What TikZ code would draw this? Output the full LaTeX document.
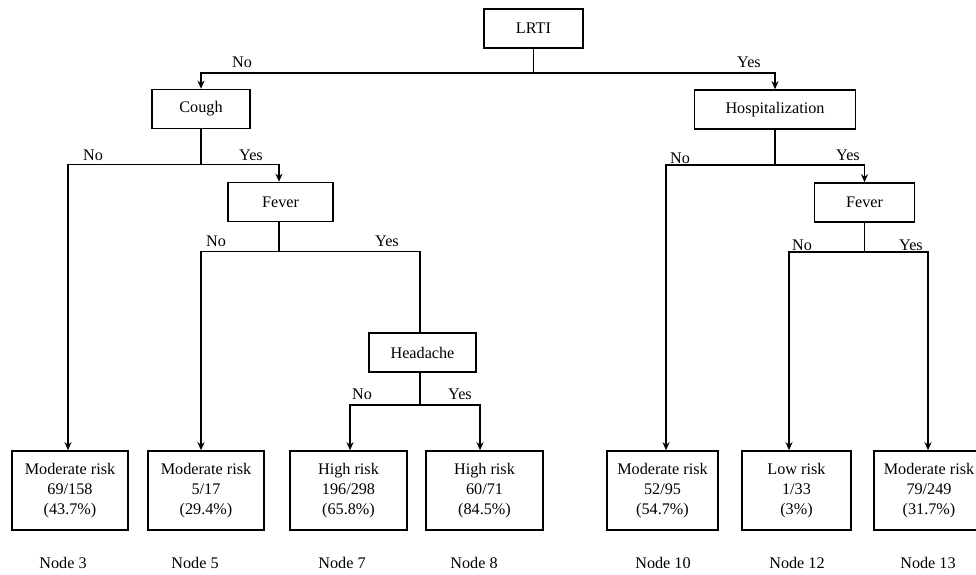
\documentclass[tikz,border=0pt]{standalone}
\usepackage{fontspec}
\setmainfont{Liberation Serif}
\usetikzlibrary{arrows.meta}
\begin{document}
\begin{tikzpicture}[x=1pt,y=-1pt,
  every node/.style={font=\fontsize{16.2}{20}\selectfont},
  splitbox/.style={draw,line width=1.6pt,inner sep=0pt,minimum height=39pt},
  leafbox/.style={draw,line width=1.6pt,inner sep=0pt,minimum height=79pt,align=center},
  link/.style={line width=1.4pt},
  arr/.style={link,-{Stealth[length=8pt,width=7pt,inset=2.5pt]}},
  lbl/.style={inner sep=0pt},
]
\useasboundingbox (0,0) rectangle (976,574);
\clip (0,0) rectangle (976,574);

% decision nodes
\node[splitbox,minimum width=99pt]  (lrti)  at (533.5,28.5) {LRTI};
\node[splitbox,minimum width=98pt]  (cough) at (201,109)    {Cough};
\node[splitbox,minimum width=161pt] (hosp)  at (775,109.5)  {Hospitalization};
\node[splitbox,minimum width=105pt] (fevA)  at (280.5,202)  {Fever};
\node[splitbox,minimum width=100pt] (fevB)  at (864.5,202.5){Fever};
\node[splitbox,minimum width=107pt] (head)  at (422.5,352.5){Headache};

% outcome nodes
\node[leafbox,minimum width=116pt] (n3)  at (70,490.5)    {Moderate risk\\69/158\\(43.7\%)};
\node[leafbox,minimum width=116pt] (n5)  at (206,490.5)   {Moderate risk\\5/17\\(29.4\%)};
\node[leafbox,minimum width=117pt] (n7)  at (348.5,490.5) {High risk\\196/298\\(65.8\%)};
\node[leafbox,minimum width=117pt] (n8)  at (484.5,490.5) {High risk\\60/71\\(84.5\%)};
\node[leafbox,minimum width=111pt] (n10) at (662.5,490.5) {Moderate risk\\52/95\\(54.7\%)};
\node[leafbox,minimum width=109pt] (n12) at (796.5,490.5) {Low risk\\1/33\\(3\%)};
\node[leafbox,minimum width=110pt] (n13) at (929,490.5)   {Moderate risk\\79/249\\(31.7\%)};

% node captions
\node (c3)  at (63,563)  {Node 3};
\node (c5)  at (195,563) {Node 5};
\node (c7)  at (342,563) {Node 7};
\node (c8)  at (474,563) {Node 8};
\node (c10) at (663,563) {Node 10};
\node (c12) at (797,563) {Node 12};
\node (c13) at (928,563) {Node 13};

% branches
\draw[arr] (lrti.south) -- ++(0,24) -| (cough.north);
\draw[arr] (lrti.south) -- ++(0,24) -| (hosp.north);

\draw[arr] (cough.south) -- ++(0,35) -| ([xshift=-2pt]n3.north);
\draw[arr] (cough.south) -- ++(0,35) -| ([xshift=-1.5pt]fevA.north);

\draw[arr]  ([xshift=-1.5pt]fevA.south) -- ++(0,29) -| ([xshift=-5pt]n5.north);
\draw[link] ([xshift=-1.5pt]fevA.south) -- ++(0,29) -| ([xshift=-2.5pt]head.north);

\draw[arr] ([xshift=-2.5pt]head.south) -- ++(0,32) -| ([xshift=1.5pt]n7.north);
\draw[arr] ([xshift=-2.5pt]head.south) -- ++(0,32) -| ([xshift=-4.5pt]n8.north);

\draw[arr] (hosp.south) -- ++(0,35) -| ([xshift=3.5pt]n10.north);
\draw[arr] (hosp.south) -- ++(0,35) -| (fevB.north);

\draw[arr] (fevB.south) -- ++(0,29) -| ([xshift=-7.5pt]n12.north);
\draw[arr] (fevB.south) -- ++(0,29) -| ([xshift=-1pt]n13.north);

% branch labels
\node[lbl] (l1n) at (242,62)  {No};
\node[lbl] (l1y) at (749,62)  {Yes};
\node[lbl] (l2n) at (93,155)  {No};
\node[lbl] (l2y) at (251,155) {Yes};
\node[lbl] (l3n) at (680,158) {No};
\node[lbl] (l3y) at (848,155) {Yes};
\node[lbl] (l4n) at (216,241) {No};
\node[lbl] (l4y) at (387,241) {Yes};
\node[lbl] (l5n) at (802,245) {No};
\node[lbl] (l5y) at (911,245) {Yes};
\node[lbl] (l6n) at (362,394) {No};
\node[lbl] (l6y) at (460,394) {Yes};
\end{tikzpicture}
\end{document}
